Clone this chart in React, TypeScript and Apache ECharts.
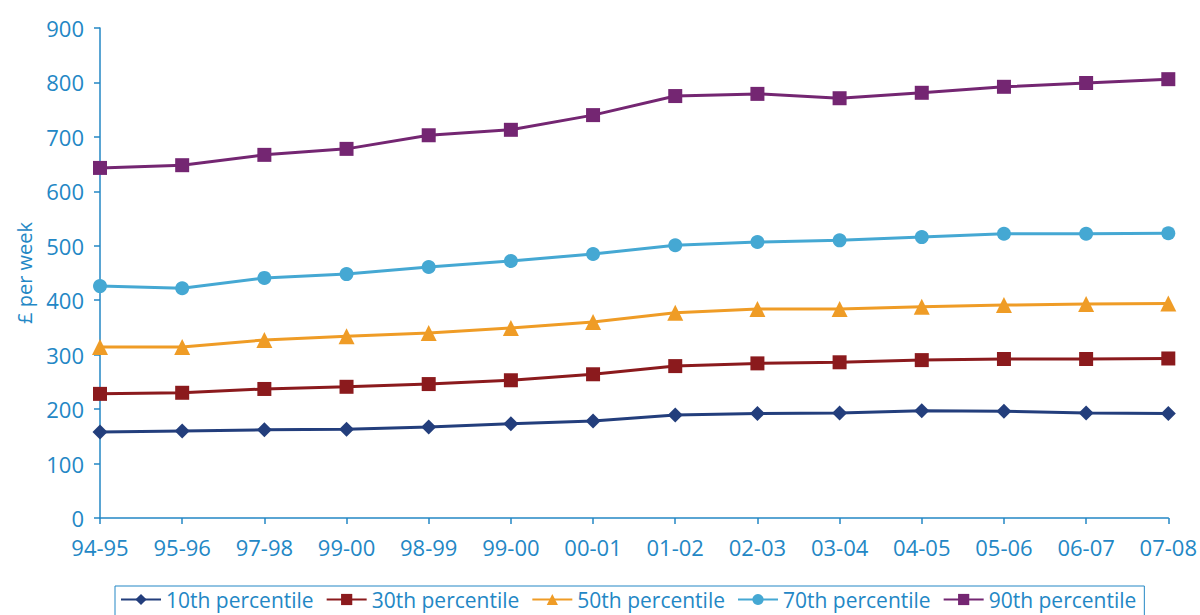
import React, { useEffect, useRef } from "react";
import * as echarts from "echarts";

const categories = ["94-95", "95-96", "97-98", "99-00", "98-99", "99-00", "00-01", "01-02", "02-03", "03-04", "04-05", "05-06", "06-07", "07-08"];
const p10 = [158, 160, 162, 163, 167, 173, 178, 189, 192, 193, 197, 196, 193, 192];
const p30 = [228, 230, 237, 241, 246, 253, 264, 279, 284, 286, 290, 292, 292, 293];
const p50 = [314, 314, 327, 334, 340, 349, 360, 377, 384, 384, 388, 391, 393, 394];
const p70 = [426, 422, 441, 448, 461, 472, 485, 501, 507, 510, 516, 522, 522, 523];
const p90 = [643, 648, 667, 678, 703, 713, 740, 775, 779, 771, 781, 792, 799, 806];

const seriesNames = ["10th percentile", "30th percentile", "50th percentile", "70th percentile", "90th percentile"];
const seriesColors = ["#233E7C", "#8B1A1D", "#EF9C26", "#45A8D3", "#742672"];
const seriesSymbols = ["diamond", "rect", "triangle", "circle", "rect"];
const seriesData = [p10, p30, p50, p70, p90];

const TEXT = "#2387C5";
const FONT = "'Open Sans', 'Noto Sans', sans-serif";

export default function App() {
  const ref = useRef<HTMLDivElement>(null);
  useEffect(() => {
    if (!ref.current) return;
    const chart = echarts.init(ref.current, null, { renderer: "svg" });
    chart.setOption({
      animation: false,
      textStyle: { fontFamily: FONT },
      grid: { left: 100, right: 30, top: 28, bottom: 97 },
      legend: {
        data: seriesNames,
        left: 115,
        top: 586,
        borderColor: TEXT,
        borderWidth: 1,
        padding: [3, 8, 8, 5],
        itemGap: 12,
        itemWidth: 40,
        itemHeight: 14,
        textStyle: { color: TEXT, fontSize: 21, fontFamily: FONT },
      },
      xAxis: {
        type: "category",
        data: categories,
        boundaryGap: false,
        axisLine: { lineStyle: { color: TEXT, width: 1.5 } },
        axisTick: { show: true, length: 6, lineStyle: { color: TEXT, width: 1.5 } },
        axisLabel: { color: TEXT, fontSize: 22, margin: 18, fontFamily: FONT },
        splitLine: { show: false },
      },
      yAxis: {
        type: "value",
        min: 0,
        max: 900,
        interval: 100,
        name: "£ per week",
        nameLocation: "middle",
        nameGap: 66,
        nameTextStyle: { color: TEXT, fontSize: 20, fontFamily: FONT },
        axisLine: { show: true, lineStyle: { color: TEXT, width: 1.5 } },
        axisTick: { show: true, length: 6, lineStyle: { color: TEXT, width: 1.5 } },
        axisLabel: { color: TEXT, fontSize: 22, margin: 16, fontFamily: FONT },
        splitLine: { show: false },
      },
      series: seriesNames.map((name, i) => ({
        name,
        type: "line",
        data: seriesData[i],
        symbol: seriesSymbols[i],
        symbolSize: seriesSymbols[i] === "triangle" ? 16 : seriesSymbols[i] === "diamond" ? 15 : 14,
        showSymbol: true,
        lineStyle: { color: seriesColors[i], width: 3 },
        itemStyle: { color: seriesColors[i] },
      })),
    });
    return () => chart.dispose();
  }, []);
  return <div ref={ref} style={{ width: 1200, height: 615, position: "absolute", left: 0, top: 0 }} />;
}
